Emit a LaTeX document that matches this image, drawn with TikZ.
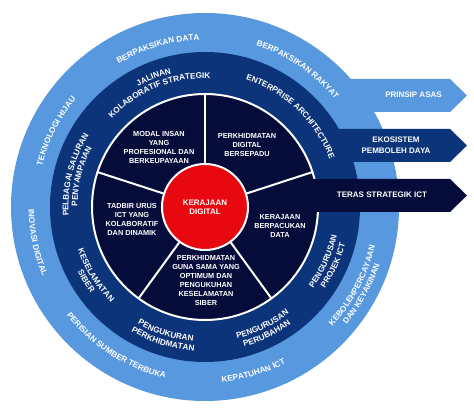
\documentclass[tikz,border=0pt]{standalone}
\usepackage{fontspec}
\setmainfont{Liberation Sans}
\newfontfamily\ringbold{Liberation Sans Bold}
\usetikzlibrary{decorations.text}

\definecolor{ringblue}{RGB}{88,152,222}
\definecolor{ringnavy}{RGB}{12,52,122}
\definecolor{coredark}{RGB}{6,12,58}
\definecolor{corered}{RGB}{232,8,16}

\newcommand{\ringfont}{\ringbold\fontsize{8.2}{9}\selectfont}
\newcommand{\segfont}{\bfseries\fontsize{7.3}{9}\selectfont}

% curved label read clockwise (upper part): radius, centre angle, text
\newcommand{\cwlabel}[3]{%
  \path[font=\ringfont, decorate, decoration={text along path, text align=center,
      text color=white, text={|\ringfont|#3}}]
    ({#2+45}:#1pt) arc[start angle={#2+45}, end angle={#2-45}, radius=#1pt];}
% curved label read counter-clockwise (lower part)
\newcommand{\ccwlabel}[3]{%
  \path[font=\ringfont, decorate, decoration={text along path, text align=center,
      text color=white, text={|\ringfont|#3}}]
    ({#2-45}:#1pt) arc[start angle={#2-45}, end angle={#2+45}, radius=#1pt];}

\begin{document}
\begin{tikzpicture}[
    x=1pt, y=1pt,
    segtext/.style={text=white, font=\segfont, align=center, inner sep=0pt},
    arrowtext/.style={text=white, font=\bfseries\fontsize{8}{10.5}\selectfont, align=center},
    divider/.style={white, line width=2pt}
]
\useasboundingbox (-205,-207) rectangle (269,207);

% rings and banners
\fill[ringblue] (0,0) circle[radius=194pt];
\fill[ringblue] (100,128) -- (245,128) -- (262,111.5) -- (245,95) -- (100,95) -- cycle;
\fill[ringnavy] (0,0) circle[radius=155pt];
\fill[ringnavy] (90,78) -- (245,78) -- (262,61.5) -- (245,45) -- (90,45) -- cycle;
\filldraw[fill=coredark, draw=white, line width=2pt] (0,0) circle[radius=113pt];
\fill[coredark] (80,28) -- (245,28) -- (262,11.5) -- (245,-5) -- (80,-5) -- cycle;

\foreach \a in {90,18,-54,-126,162}
    \draw[divider] (\a:43pt) -- (\a:113pt);

\node[circle, fill=corered, draw=white, line width=2pt, minimum size=86pt, inner sep=0pt,
    text=white, font=\bfseries\fontsize{8}{9}\selectfont, align=center] (kd) at (0,0)
    {KERAJAAN\\DIGITAL};

% core segments
\node[segtext] (modal) at (-46,60) {MODAL INSAN\\YANG\\PROFESIONAL DAN\\BERKEUPAYAAN};
\node[segtext] (bersepadu) at (42,61.5) {PERKHIDMATAN\\DIGITAL\\BERSEPADU};
\node[segtext] (data) at (75,-19) {KERAJAAN\\BERPACUKAN\\DATA};
\node[segtext] (gunasama) at (1,-73.5) {PERKHIDMATAN\\GUNA SAMA YANG\\OPTIMUM DAN\\PENGUKUHAN\\KESELAMATAN\\SIBER};
\node[segtext] (tadbir) at (-73,-12.5) {TADBIR URUS\\ICT YANG\\KOLABORATIF\\DAN DINAMIK};

% banners
\node[arrowtext] (prinsip) at (208.5,112) {PRINSIP ASAS};
\node[arrowtext] (ekosistem) at (191,61.5) {EKOSISTEM\\PEMBOLEH DAYA};
\node[arrowtext] (teras) at (177,12) {TERAS STRATEGIK ICT};

% outer ring
\cwlabel{167}{106.5}{BERPAKSIKAN DATA}
\cwlabel{169}{56}{BERPAKSIKAN RAKYAT}
\cwlabel{168}{153}{TEKNOLOGI HIJAU}
\ccwlabel{176.5}{192}{INOVASI DIGITAL}
\ccwlabel{175.7}{237.5}{PERISIAN SUMBER TERBUKA}
\ccwlabel{176}{-73.6}{KEPATUHAN ICT}
\ccwlabel{174.5}{-28}{KEBOLEHPERCAYAAN}
\ccwlabel{184}{-29}{DAN KEYAKINAN}

% middle ring
\cwlabel{137.7}{111.6}{JALINAN}
\cwlabel{128.5}{112}{KOLABORATIF STRATEGIK}
\cwlabel{133.6}{46.6}{ENTERPRISE ARCHITECTURE}
\cwlabel{136.6}{166}{PELBAGAI SALURAN}
\cwlabel{127.6}{166}{PENYAMPAIAN}
\ccwlabel{134}{212}{KESELAMATAN}
\ccwlabel{143}{212}{SIBER}
\ccwlabel{135}{252.5}{PENGUKURAN}
\ccwlabel{144.5}{252.5}{PERKHIDMATAN}
\ccwlabel{135.6}{-64}{PENGURUSAN}
\ccwlabel{145}{-64}{PERUBAHAN}
\ccwlabel{135}{-24.5}{PENGURUSAN}
\ccwlabel{145}{-24.5}{PROJEK ICT}

\end{tikzpicture}
\end{document}
